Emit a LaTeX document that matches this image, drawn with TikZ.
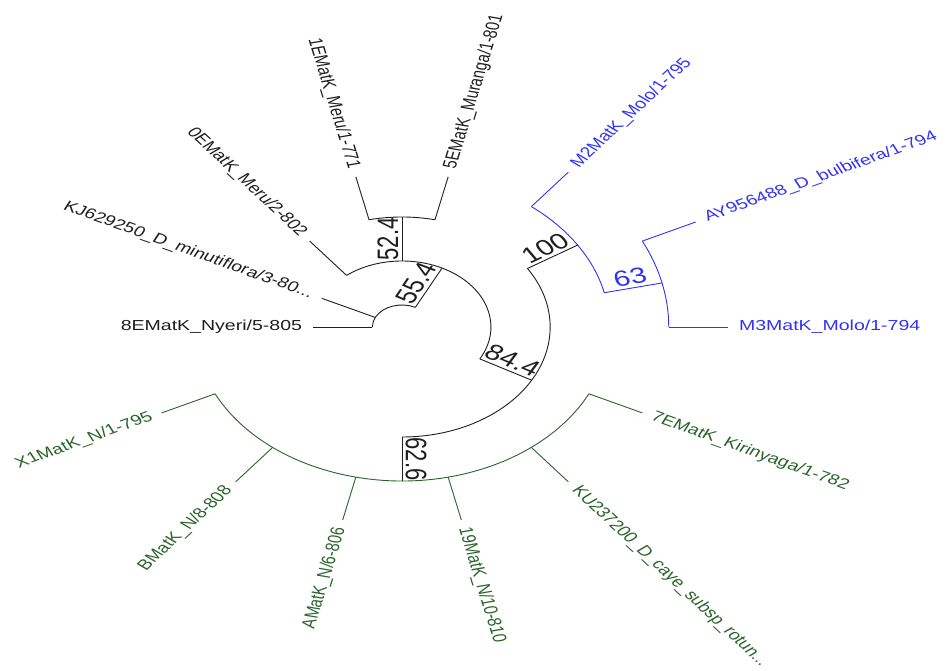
\documentclass[tikz,border=0pt]{standalone}
\usepackage{fontspec}
\setmainfont{Liberation Sans}
\definecolor{treeblue}{RGB}{50,50,245}
\definecolor{treegreen}{RGB}{40,100,40}
\definecolor{treeblack}{RGB}{30,30,30}
\begin{document}
\begin{tikzpicture}[x=1pt,y=1pt,
  br/.style={line width=0.9pt, draw=treeblack},
  bl/.style={line width=0.9pt, draw=treeblue},
  gr/.style={line width=0.9pt, draw=treegreen},
  leaflab/.style={transform shape, inner sep=0pt, text height=10.4pt, text depth=3pt,
    font=\fontsize{14.5}{17}\selectfont},
  bslab/.style={transform shape, inner sep=2.5pt, anchor=south,
    font=\fontsize{22}{26}\selectfont}]
\useasboundingbox (0,0) rectangle (947,671);
\begin{scope}[shift={(402,344)}, xscale=1.347]
% ---------- internal node points ----------
\coordinate (r55) at (63.214:22);
\coordinate (n55) at (63.214:66);
\coordinate (r84) at (-28.929:66);
\coordinate (n84) at (-28.929:110);
\coordinate (r52) at (90:66);
\coordinate (n52) at (90:110);
\coordinate (r62) at (-90:110);
\coordinate (n62) at (-90:154);
\coordinate (r100) at (32.143:110);
\coordinate (n100) at (32.143:154);
\coordinate (r63) at (12.857:154);
\coordinate (n63) at (12.857:198);
% ---------- leaf bases and tips ----------
\coordinate (b0) at (0:198);        \coordinate (t0) at (0:242);
\coordinate (b1) at (25.714:198);   \coordinate (t1) at (25.714:242);
\coordinate (b2) at (51.429:154);   \coordinate (t2) at (51.429:198);
\coordinate (b3) at (77.143:110);   \coordinate (t3) at (77.143:154);
\coordinate (b4) at (102.857:110);  \coordinate (t4) at (102.857:154);
\coordinate (b5) at (128.571:66);   \coordinate (t5) at (128.571:110);
\coordinate (b6) at (154.286:22);   \coordinate (t6) at (154.286:66);
\coordinate (b7) at (180:22);       \coordinate (t7) at (180:66);
\coordinate (b8) at (205.714:154);  \coordinate (t8) at (205.714:198);
\coordinate (b9) at (231.429:154);  \coordinate (t9) at (231.429:198);
\coordinate (b10) at (257.143:154); \coordinate (t10) at (257.143:198);
\coordinate (b11) at (282.857:154); \coordinate (t11) at (282.857:198);
\coordinate (b12) at (308.571:154); \coordinate (t12) at (308.571:198);
\coordinate (b13) at (334.286:154); \coordinate (t13) at (334.286:198);
% ---------- arcs ----------
\draw[br] (r55) arc[start angle=63.214, end angle=180, radius=22pt];
\draw[br] (r84) arc[start angle=-28.929, end angle=128.571, radius=66pt];
\draw[br] (r62) arc[start angle=-90, end angle=32.143, radius=110pt];
\draw[br] (b3) arc[start angle=77.143, end angle=102.857, radius=110pt];
\draw[gr] (b8) arc[start angle=205.714, end angle=334.286, radius=154pt];
\draw[bl] (r63) arc[start angle=12.857, end angle=51.429, radius=154pt];
\draw[bl] (b0) arc[start angle=0, end angle=25.714, radius=198pt];
% ---------- stems ----------
\draw[br] (r55) -- (n55);
\draw[br] (r84) -- (n84);
\draw[br] (r52) -- (n52);
\draw[br] (r62) -- (n62);
\draw[br] (r100) -- (n100);
\draw[bl] (r63) -- (n63);
% ---------- leaf branches ----------
\draw[bl] (b0) -- (t0);
\draw[bl] (b1) -- (t1);
\draw[bl] (b2) -- (t2);
\draw[br] (b3) -- (t3);
\draw[br] (b4) -- (t4);
\draw[br] (b5) -- (t5);
\draw[br] (b6) -- (t6);
\draw[br] (b7) -- (t7);
\draw[gr] (b8) -- (t8);
\draw[gr] (b9) -- (t9);
\draw[gr] (b10) -- (t10);
\draw[gr] (b11) -- (t11);
\draw[gr] (b12) -- (t12);
\draw[gr] (b13) -- (t13);
% ---------- leaf labels ----------
\node[leaflab, text=treeblue, anchor=west, rotate=0] (l0) at (0:250) {M3MatK\_Molo/1-794};
\node[leaflab, text=treeblue, anchor=west, rotate=25.714] (l1) at (25.714:250) {AY956488\_D\_bulbifera/1-794};
\node[leaflab, text=treeblue, anchor=west, rotate=51.429] (l2) at (51.429:206) {M2MatK\_Molo/1-795};
\node[leaflab, text=treeblack, anchor=west, rotate=77.143] (l3) at (77.143:162) {5EMatK\_Muranga/1-801};
\node[leaflab, text=treeblack, anchor=east, rotate=-77.143] (l4) at (102.857:162) {1EMatK\_Meru/1-771};
\node[leaflab, text=treeblack, anchor=east, rotate=-51.429] (l5) at (128.571:118) {0EMatK\_Meru/2-802};
\node[leaflab, text=treeblack, anchor=east, rotate=-25.714] (l6) at (154.286:74) {KJ629250\_D\_minutiflora/3-80...};
\node[leaflab, text=treeblack, anchor=east, rotate=0] (l7) at (180:74) {8EMatK\_Nyeri/5-805};
\node[leaflab, text=treegreen, anchor=east, rotate=25.714] (l8) at (205.714:206) {X1MatK\_N/1-795};
\node[leaflab, text=treegreen, anchor=east, rotate=51.429] (l9) at (231.429:206) {BMatK\_N/8-808};
\node[leaflab, text=treegreen, anchor=east, rotate=77.143] (l10) at (257.143:206) {AMatK\_N/6-806};
\node[leaflab, text=treegreen, anchor=west, rotate=-77.143] (l11) at (282.857:206) {19MatK\_N/10-810};
\node[leaflab, text=treegreen, anchor=west, rotate=-51.429] (l12) at (308.571:206) {KU237200\_D\_caye\_subsp\_rotun...};
\node[leaflab, text=treegreen, anchor=west, rotate=-25.714] (l13) at (334.286:206) {7EMatK\_Kirinyaga/1-782};
% ---------- support values ----------
\node[bslab, text=treeblack, rotate=63.214] (s55) at (63.214:44) {55.4};
\node[bslab, text=treeblack, rotate=90] (s52) at (90:88) {52.4};
\node[bslab, text=treeblack, rotate=-28.929] (s84) at (-28.929:88) {84.4};
\node[bslab, text=treeblack, rotate=-90] (s62) at (-90:132) {62.6};
\node[bslab, text=treeblack, rotate=32.143] (s100) at (32.143:132) {100};
\node[bslab, text=treeblue, rotate=12.857] (s63) at (12.857:176) {63};
\end{scope}
\end{tikzpicture}
\end{document}
